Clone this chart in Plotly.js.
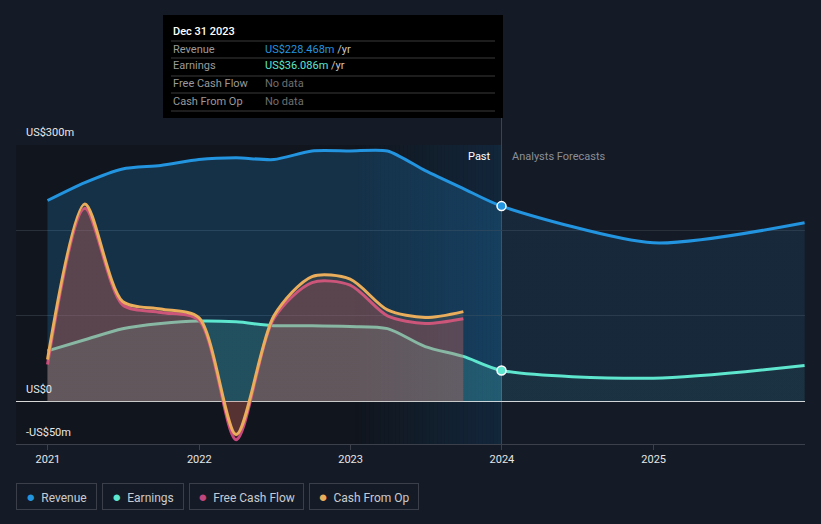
<!DOCTYPE html>
<html>
<head>
<meta charset="utf-8">
<script src="https://cdn.plot.ly/plotly-3.0.1.min.js"></script>
<style>
  html, body { margin: 0; padding: 0; background: #151b26; }
  #chart { width: 821px; height: 524px; }
</style>
</head>
<body>
<div id="chart"></div>
<script>
// ---------------- DATA ----------------
const pastDates = ['2020-12-31','2021-03-31','2021-06-30','2021-09-30','2021-12-31','2022-03-31','2022-06-30','2022-09-30','2022-12-31','2023-03-31','2023-06-30','2023-09-30','2023-12-31'];
const forecastDates = ['2024-12-31','2025-12-31'];
const revenuePast = [235, 256, 272, 276, 283, 285, 283, 293, 293, 293, 270, 249, 228.468];
const revenueForecast = [185.5, 209];
const earningsPast = [59, 72, 85, 91, 94, 93, 88.5, 88.5, 87.5, 85, 64, 52.5, 36.086];
const earningsForecast = [27, 42];
const cashDates = ['2020-12-31','2021-03-31','2021-06-30','2021-09-30','2021-12-31','2022-03-31','2022-06-30','2022-09-30','2022-12-31','2023-03-31','2023-06-30','2023-09-30'];
const fcf = [43, 226, 113, 104, 95, -45, 97, 139, 136, 100, 91, 96.5];
const cfo = [49, 231, 117, 108, 98, -39, 100, 146, 143, 107, 98, 105];
const xTickVals = ['2021-01-01','2022-01-01','2023-01-01','2024-01-01','2025-01-01'];
const xTickText = ['2021','2022','2023','2024','2025'];
const yLabelVals = [300, 0, -50];
const yLabelText = ['US$300m','US$0','-US$50m'];
const seriesNames = ['Revenue','Earnings','Free Cash Flow','Cash From Op'];
const tooltipDate = 'Dec 31 2023';

// ---------------- STYLE ----------------
const C = { rev:'#2394df', earn:'#5ee6cf', fcf:'#c9497f', cfo:'#e9ad5b' };
const W = 821, H = 524, ML = 16, MR = 16, MT = 145, MB = 80;
const PW = W - ML - MR, PH = H - MT - MB;
const px = X => (X - ML) / PW;
const py = Y => (H - MB - Y) / PH;
const xRange = ['2020-10-16','2026-01-01'];
const pastEnd = '2023-12-31';

const revX = pastDates.concat(forecastDates);
const revY = revenuePast.concat(revenueForecast);
const earnY = earningsPast.concat(earningsForecast);
const t = d => new Date(d).getTime();
const fRev = (t(pastEnd) - t(revX[0])) / (t(revX[revX.length-1]) - t(revX[0]));

const line = (color, s) => ({ color, width: 3, shape: 'spline', smoothing: s });

const traces = [
  { x: revX, y: revY, type:'scatter', mode:'lines', line: line(C.rev, 0.7), fill:'tozeroy',
    fillcolor:'rgba(35,148,223,0.15)',
    fillgradient: { type:'horizontal', colorscale: [[0,'rgba(35,148,223,0.22)'],[fRev,'rgba(35,148,223,0.22)'],[fRev,'rgba(35,148,223,0.11)'],[1,'rgba(35,148,223,0.11)']] },
    hoverinfo:'skip' },
  { x: revX, y: earnY, type:'scatter', mode:'lines', line: line(C.earn, 0.8), fill:'tozeroy',
    fillcolor:'rgba(94,230,207,0.12)',
    fillgradient: { type:'horizontal', colorscale: [[0,'rgba(94,230,207,0.17)'],[fRev,'rgba(94,230,207,0.17)'],[fRev,'rgba(94,230,207,0.05)'],[1,'rgba(94,230,207,0.05)']] },
    hoverinfo:'skip' },
  { x: cashDates, y: fcf, type:'scatter', mode:'lines', line: line(C.fcf, 0.8), fill:'tozeroy',
    fillcolor:'rgba(200,70,90,0.28)', hoverinfo:'skip' },
  { x: cashDates, y: cfo, type:'scatter', mode:'lines', line: line(C.cfo, 0.8), fill:'tozeroy',
    fillcolor:'rgba(233,173,91,0.12)', hoverinfo:'skip' },
  { x: [pastEnd, pastEnd], y: [revenuePast[revenuePast.length-1], earningsPast[earningsPast.length-1]],
    type:'scatter', mode:'markers',
    marker: { size: 9, color: [C.rev, C.earn], line: { color:'#ffffff', width: 1.5 } }, hoverinfo:'skip' }
];

// ---------------- SHAPES ----------------
const shapes = [];
shapes.push({ type:'rect', layer:'below', xref:'x', yref:'paper', x0: xRange[0], x1: pastEnd, y0: 0, y1: 1, fillcolor:'#11151d', line:{width:0} });
const N = 40, b0 = t('2023-01-01'), b1 = t(pastEnd);
for (let i = 0; i < N; i++) {
  const a = 0.14 * (i + 0.5) / N;
  shapes.push({ type:'rect', layer:'below', xref:'x', yref:'paper',
    x0: new Date(b0 + (b1 - b0) * i / N).toISOString(), x1: new Date(b0 + (b1 - b0) * (i + 1) / N).toISOString(),
    y0: 0, y1: 1, fillcolor: 'rgba(33,150,243,' + a.toFixed(4) + ')', line:{width:0} });
}
shapes.push({ type:'line', layer:'below', xref:'x', yref:'paper', x0: pastEnd, x1: pastEnd, y0: 0, y1: py(15), line:{ color:'#1e4d72', width:1 } });
shapes.push({ type:'rect', xref:'paper', yref:'paper', x0: px(163), x1: px(503), y0: py(118), y1: py(15), fillcolor:'#000000', line:{width:0} });
[41, 58, 76, 93, 111].forEach(Y => shapes.push({ type:'line', xref:'paper', yref:'paper', x0: px(171), x1: px(495), y0: py(Y), y1: py(Y), line:{ color:'#3a3a3a', width:1 } }));

// ---------------- ANNOTATIONS ----------------
const ann = [];
const font = 'Roboto, "Noto Sans", sans-serif';
const yLabelPx = { 300: 132, 0: 389, '-50': 432 };
yLabelVals.forEach((v, i) => ann.push({ xref:'paper', yref:'paper', x: px(24), y: py(yLabelPx[v]), xanchor:'left', yanchor:'middle', showarrow:false, text: yLabelText[i], font:{ family: font, size: 11, color:'#e8e8e8' } }));
ann.push({ xref:'paper', yref:'paper', x: px(493), y: py(156), xanchor:'right', yanchor:'middle', showarrow:false, text:'Past', font:{ family: font, size: 11, color:'#ffffff' } });
ann.push({ xref:'paper', yref:'paper', x: px(510), y: py(156), xanchor:'left', yanchor:'middle', showarrow:false, text:'Analysts Forecasts', font:{ family: font, size: 11, color:'#8a8f98' } });
ann.push({ xref:'paper', yref:'paper', x: px(171), y: py(31), xanchor:'left', yanchor:'middle', showarrow:false, text: tooltipDate, font:{ family: font, size: 11, color:'#ffffff', weight: 500 } });
const fmt = v => 'US$' + v.toFixed(3) + 'm';
const rows = [
  [seriesNames[0], '<span style="color:' + C.rev + '">' + fmt(revenuePast[revenuePast.length-1]) + '</span><span style="color:#c8c8c8"> /yr</span>'],
  [seriesNames[1], '<span style="color:' + C.earn + '">' + fmt(earningsPast[earningsPast.length-1]) + '</span><span style="color:#c8c8c8"> /yr</span>'],
  [seriesNames[2], '<span style="color:#6f6f6f">No data</span>'],
  [seriesNames[3], '<span style="color:#6f6f6f">No data</span>']
];
[49, 66, 84, 101].forEach((Y, i) => {
  ann.push({ xref:'paper', yref:'paper', x: px(171), y: py(Y), xanchor:'left', yanchor:'middle', showarrow:false, text: rows[i][0], font:{ family: font, size: 11, color:'#9a9a9a' } });
  ann.push({ xref:'paper', yref:'paper', x: px(263), y: py(Y), xanchor:'left', yanchor:'middle', showarrow:false, text: rows[i][1], font:{ family: font, size: 11, color:'#9a9a9a' } });
});
const legBoxes = [[16, 97], [102, 184], [189, 304], [309, 419]];
const legColors = [C.rev, C.earn, '#c0467e', C.cfo];
legBoxes.forEach((b, i) => {
  ann.push({ xref:'paper', yref:'paper', x: px(b[0]), y: py(496.5), xanchor:'left', yanchor:'middle', showarrow:false,
    width: b[1] - b[0] - 2, height: 25, align:'center', valign:'middle', borderwidth: 1, borderpad: 0, bordercolor:'#3a3f49',
    text: '<span style="color:' + legColors[i] + ';font-size:15px">●</span>  ' + seriesNames[i],
    font:{ family: font, size: 12, color:'#c8cbd0' } });
});

const layout = {
  width: W, height: H,
  margin: { l: ML, r: MR, t: MT, b: MB, pad: 0 },
  paper_bgcolor:'#151b26', plot_bgcolor:'#151b26',
  showlegend: false,
  font: { family: font, color:'#e6e6e6' },
  xaxis: { type:'date', range: xRange, tickvals: xTickVals, ticktext: xTickText, showgrid:false,
    showline:true, linecolor:'#3b404a', linewidth:1, ticks:'outside', ticklen:5, tickcolor:'#3b404a',
    tickfont:{ family: font, size: 11, color:'#e6e6e6' }, zeroline:false, fixedrange:true },
  yaxis: { range: [-50, 300], tickvals: [0, 100, 200, 300], showticklabels:false, gridcolor:'#2a303a', gridwidth:1,
    zeroline:true, zerolinecolor:'#d8d8d8', zerolinewidth:1.5, showline:false, ticks:'', fixedrange:true },
  shapes, annotations: ann
};

Plotly.newPlot('chart', traces, layout, { displayModeBar:false, staticPlot:true });
</script>
</body>
</html>
